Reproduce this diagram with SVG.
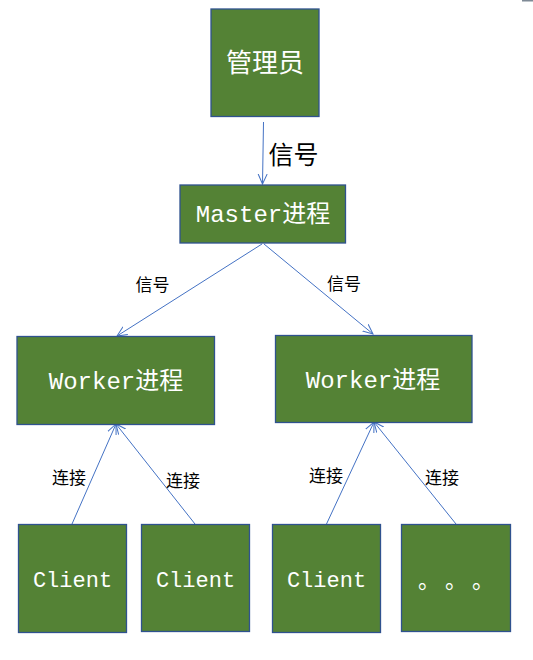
<svg xmlns="http://www.w3.org/2000/svg" width="533" height="660" viewBox="0 0 533 660">
<style>
.box{fill:#548235;stroke:#2F528F;stroke-width:1.3}
.bt{fill:#ffffff;font-family:"Liberation Mono","Noto Sans CJK SC",monospace;text-anchor:middle}
.lb{fill:#000000;font-family:"Noto Sans CJK SC",sans-serif;font-size:17px;text-anchor:middle}
.cn{stroke:#4472C4;stroke-width:1;fill:none;marker-end:url(#ah)}
</style>
<defs>
<marker id="ah" markerUnits="userSpaceOnUse" markerWidth="12" markerHeight="12" refX="10" refY="5" orient="auto" viewBox="0 0 12 10">
<path d="M0,0.5 L10,5 L0,9.5" fill="none" stroke="#4472C4" stroke-width="1"/>
</marker>
</defs>
<rect x="522" y="0" width="11" height="1.5" fill="#7f8a96"/>
<g id="connectors">
<line class="cn" x1="263.5" y1="122" x2="262.5" y2="184"/>
<line class="cn" x1="262" y1="244" x2="117" y2="336"/>
<line class="cn" x1="264" y1="244" x2="373" y2="334"/>
<line class="cn" x1="72" y1="524" x2="116" y2="424"/>
<line class="cn" x1="195" y1="524" x2="116" y2="424"/>
<line class="cn" x1="326.5" y1="524" x2="374" y2="422"/>
<line class="cn" x1="456" y1="524" x2="374" y2="422"/>
</g>
<g id="labels">
<text class="lb" x="293.5" y="164" style="font-size:25px">信号</text>
<text class="lb" x="152.5" y="291">信号</text>
<text class="lb" x="344" y="290">信号</text>
<text class="lb" x="69" y="484">连接</text>
<text class="lb" x="183" y="487">连接</text>
<text class="lb" x="326" y="482">连接</text>
<text class="lb" x="442" y="484">连接</text>
</g>
<g id="admin">
<rect class="box" x="211" y="9" width="108" height="107.5"/>
<text class="bt" x="265" y="72" style="font-size:26px;font-family:'Noto Sans CJK SC',sans-serif">管理员</text>
</g>
<g id="master">
<rect class="box" x="180" y="185" width="165.5" height="58"/>
<text class="bt" x="263" y="222" style="font-size:24px">Master进程</text>
</g>
<g id="worker1">
<rect class="box" x="17" y="336.5" width="197.5" height="88"/>
<text class="bt" x="116" y="389" style="font-size:24px">Worker进程</text>
</g>
<g id="worker2">
<rect class="box" x="275.5" y="335.5" width="196.5" height="87"/>
<text class="bt" x="373" y="388" style="font-size:24px">Worker进程</text>
</g>
<g id="client1">
<rect class="box" x="18.5" y="524.5" width="108" height="108"/>
<text class="bt" x="72.5" y="587" style="font-size:22px">Client</text>
</g>
<g id="client2">
<rect class="box" x="141.5" y="524.5" width="108" height="107"/>
<text class="bt" x="195.5" y="587" style="font-size:22px">Client</text>
</g>
<g id="client3">
<rect class="box" x="272.5" y="524.5" width="108" height="108"/>
<text class="bt" x="326.5" y="587" style="font-size:22px">Client</text>
</g>
<g id="client4">
<rect class="box" x="401.5" y="524.5" width="109" height="107"/>
<text class="bt" x="418 445 472" y="588" style="font-size:22px;font-family:'Noto Sans CJK SC',sans-serif;text-anchor:start">。。。</text>
</g>
</svg>
